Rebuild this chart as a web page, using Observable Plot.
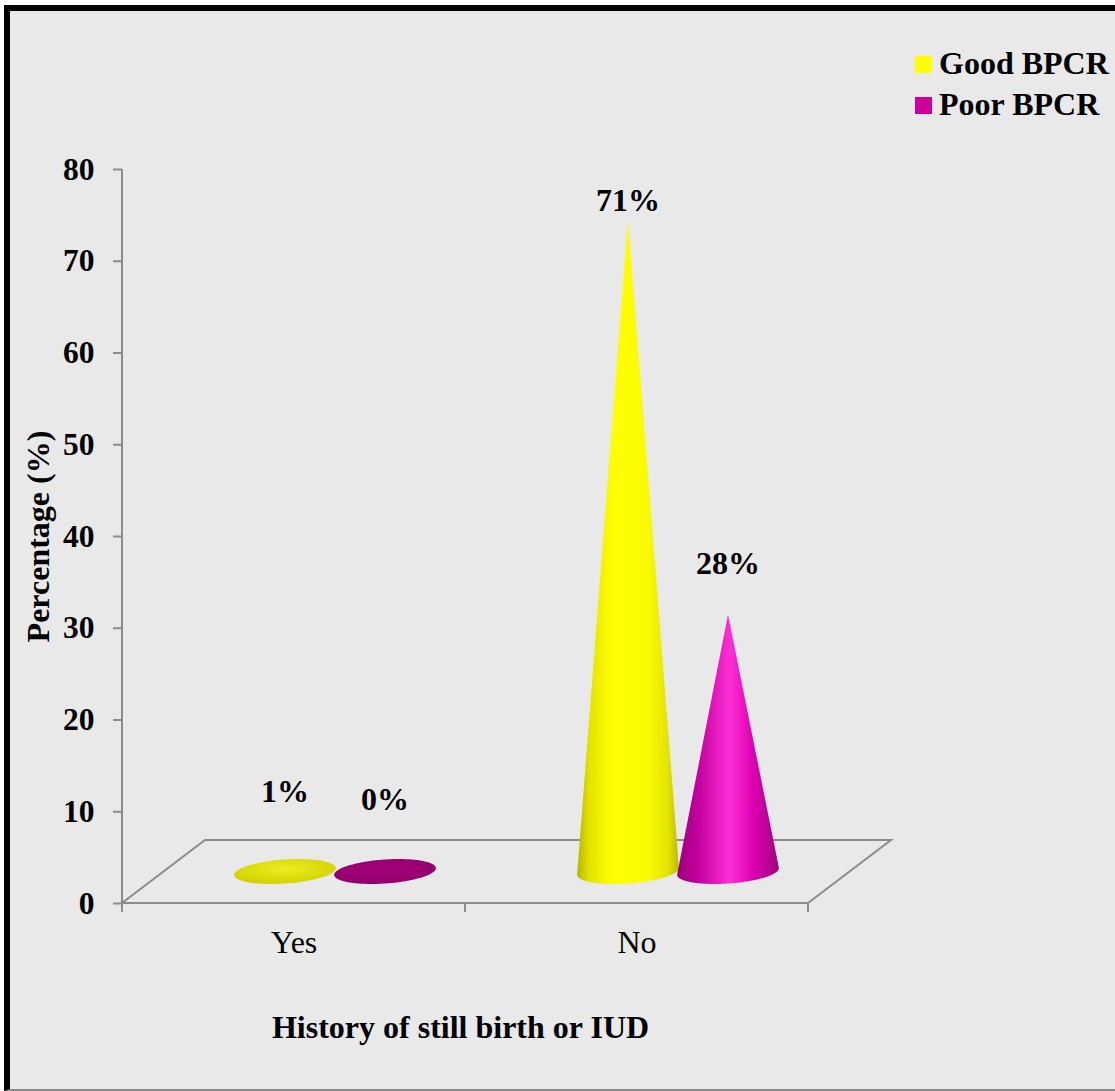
<!DOCTYPE html>
<html>
<head>
<meta charset="utf-8">
<script src="https://cdn.jsdelivr.net/npm/d3@7"></script>
<script src="https://cdn.jsdelivr.net/npm/@observablehq/plot@0.6"></script>
<style>
  html, body { margin: 0; padding: 0; background: #ffffff; }
  #panel {
    position: absolute; left: 4px; top: 5px; width: 1111px; height: 1086px;
    box-sizing: border-box; background: #e9e9e9;
    border-left: 6px solid #000; border-top: 6px solid #000; border-bottom: 2px solid #8a8a8a;
  }
  #chart { position: absolute; left: 0; top: 0; }
  #legend {
    position: absolute; left: 915px; top: 43px;
    font: bold 32px "Liberation Serif", "Times New Roman", serif; color: #000;
  }
  #legend .row { display: flex; align-items: center; height: 41px; }
  #legend .sw { width: 17px; height: 17px; margin-right: 7px; margin-top: 2px; }
  g[aria-label="y-axis tick label"] { font-weight: bold; font-size: 31.5px; }
  g[aria-label="x-axis tick label"] { font-weight: normal; font-size: 32px; }
  g[aria-label="y-axis tick"] { stroke: #8c8c8c; stroke-width: 2px; }
</style>
</head>
<body>
<div id="panel"></div>
<div id="chart"></div>
<div id="legend"></div>
<script>
// Categories, series and values
const categories = ["Yes", "No"];
const series = ["Good BPCR", "Poor BPCR"];
const goodValues = [1, 71];
const poorValues = [0, 28];
const yTicks = [0, 10, 20, 30, 40, 50, 60, 70, 80];
const seriesColors = ["#ffff00", "#cc0099"];
const xTitle = "History of still birth or IUD";
const yTitle = "Percentage (%)";

const rows = categories.flatMap((category, i) => [
  {category, series: series[0], value: goodValues[i]},
  {category, series: series[1], value: poorValues[i]}
]);

// 3D look: oblique depth of the floor, in pixels
const depthX = 83, depthY = 63;
const lineGray = "#8c8c8c";
const tickLen = 9;
const serif = '"Liberation Serif", "Times New Roman", serif';

// side shading of each cone (left → right across the silhouette)
const sideStops = [
  [[0, "#b5b500"], [0.12, "#e4e400"], [0.35, "#ffff00"], [0.7, "#fbfb00"], [0.9, "#e2e200"], [1, "#b9b900"]],
  [[0, "#98007a"], [0.2, "#c2009c"], [0.52, "#ff2ed6"], [0.75, "#dc00b0"], [1, "#a0007f"]]
];
// fill of cones that barely rise above the floor (seen as a disc)
const flatStops = [
  [[0, "#ecec22"], [1, "#d2d200"]],
  [[0, "#a5007a"], [1, "#93006c"]]
];

function innerBand(x) {
  const bw = x(categories[1]) - x(categories[0]);
  return d3.scaleBand().domain(series).range([0, bw]).paddingOuter(0.715);
}

// floor parallelogram, axis line and category ticks
function floorMark(index, {x, y}) {
  const x0 = x(categories[0]);
  const bw = x(categories[1]) - x0;
  const x1 = x0 + bw * categories.length;
  const y0 = y(0);
  const g = d3.create("svg:g")
    .attr("fill", "none").attr("stroke", lineGray).attr("stroke-width", 2);
  g.append("line").attr("x1", x0).attr("x2", x0).attr("y1", y(d3.max(yTicks))).attr("y2", y0);
  g.append("path").attr("d", `M${x0},${y0}L${x0 + depthX},${y0 - depthY}L${x1 + depthX},${y0 - depthY}L${x1},${y0}Z`);
  d3.range(categories.length + 1).forEach(i => {
    const xi = x0 + i * bw;
    g.append("line").attr("x1", xi).attr("x2", xi).attr("y1", y0).attr("y2", y0 + tickLen);
  });
  return g.node();
}

// cones: convex hull of the tilted base ellipse and the apex
function coneMark(index, {x, y}) {
  const inner = innerBand(x);
  const g = d3.create("svg:g");
  const defs = g.append("defs");
  series.forEach((s, si) => {
    const lg = defs.append("linearGradient").attr("id", `side-${si}`).attr("x1", 0).attr("x2", 1).attr("y1", 0).attr("y2", 0);
    sideStops[si].forEach(([o, c]) => lg.append("stop").attr("offset", o).attr("stop-color", c));
    const rg = defs.append("radialGradient").attr("id", `flat-${si}`).attr("cx", 0.5).attr("cy", 0.4).attr("r", 0.6);
    flatStops[si].forEach(([o, c]) => rg.append("stop").attr("offset", o).attr("stop-color", c));
  });
  const tilt = -4 * Math.PI / 180;
  rows.forEach(d => {
    const si = series.indexOf(d.series);
    const cx = x(d.category) + inner(d.series) + inner.bandwidth() / 2 + depthX / 2;
    const cy = y(0) - depthY / 2;
    const rx = inner.bandwidth() * 0.51, ry = rx * 0.235;
    const apex = [cx, y(d.value) - depthY / 2];
    const pts = d3.range(144).map(k => {
      const t = (k / 144) * 2 * Math.PI;
      const ex = rx * Math.cos(t), ey = ry * Math.sin(t);
      return [cx + ex * Math.cos(tilt) - ey * Math.sin(tilt), cy + ex * Math.sin(tilt) + ey * Math.cos(tilt)];
    });
    const hull = d3.polygonHull([...pts, apex]);
    const flat = !hull.includes(apex);
    g.append("path")
      .attr("d", "M" + hull.map(p => p.join(",")).join("L") + "Z")
      .attr("fill", `url(#${flat ? "flat" : "side"}-${si})`);
  });
  return g.node();
}

// percentage labels above each cone
function labelMark(index, {x, y}) {
  const inner = innerBand(x);
  const g = d3.create("svg:g")
    .attr("font-family", serif).attr("font-size", 32).attr("font-weight", "bold")
    .attr("text-anchor", "middle").attr("fill", "#000");
  rows.forEach(d => {
    const cx = x(d.category) + inner(d.series) + inner.bandwidth() / 2 + depthX / 2;
    g.append("text")
      .attr("x", cx)
      .attr("y", y(d.value * 0.92 + 10.1))
      .text(`${d.value}%`);
  });
  return g.node();
}

const chart = Plot.plot({
  width: 1115,
  height: 1091,
  marginLeft: 122,
  marginRight: 307,
  marginTop: 169,
  marginBottom: 188,
  style: {background: "transparent", fontFamily: serif, fontSize: "32px", color: "#000", overflow: "visible"},
  x: {type: "band", domain: categories, padding: 0},
  y: {domain: [0, d3.max(yTicks)]},
  marks: [
    floorMark,
    Plot.axisY({ticks: yTicks, tickSize: tickLen, tickPadding: 19, stroke: lineGray, strokeWidth: 2, fill: "#000", fontWeight: "bold", fontSize: 31.5, label: null}),
    Plot.axisX({tickSize: 0, tickPadding: 27, fill: "#000", fontSize: 32, label: null}),
    coneMark,
    labelMark,
    Plot.text([yTitle], {frameAnchor: "left", textAnchor: "middle", lineAnchor: "middle", rotate: -90, dx: -84, fontWeight: "bold", fontSize: 32, fill: "#000"}),
    Plot.text([xTitle], {frameAnchor: "bottom", textAnchor: "middle", lineAnchor: "middle", dx: -5, dy: 124, fontWeight: "bold", fontSize: 32, fill: "#000"})
  ]
});
document.getElementById("chart").appendChild(chart);

// legend
const legend = d3.select("#legend");
series.forEach((s, i) => {
  const row = legend.append("div").attr("class", "row");
  row.append("div").attr("class", "sw").style("background", seriesColors[i]);
  row.append("span").text(s);
});
</script>
</body>
</html>
